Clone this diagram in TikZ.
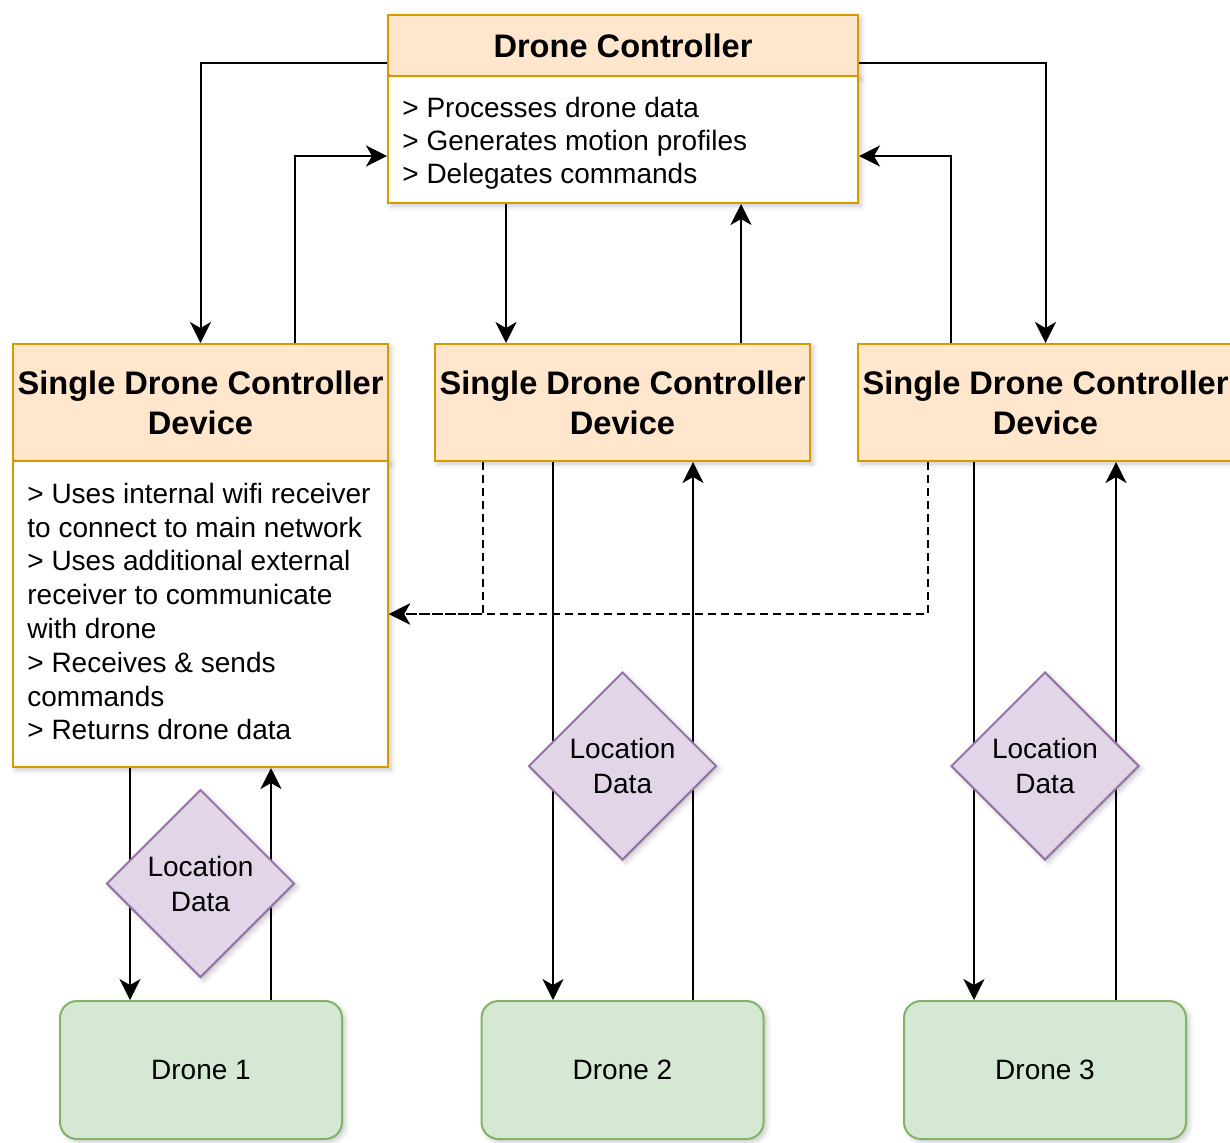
\documentclass[tikz,border=0pt]{standalone}
\usepackage{fontspec}
\setmainfont{Liberation Sans}
\usetikzlibrary{shapes.geometric, arrows.meta, calc, shadows.blur}

\definecolor{hdrfill}{HTML}{FFE6CC}
\definecolor{hdrline}{HTML}{D79B00}
\definecolor{locfill}{HTML}{E1D5E7}
\definecolor{locline}{HTML}{9673A6}
\definecolor{dronefill}{HTML}{D5E8D4}
\definecolor{droneline}{HTML}{82B366}

\tikzset{
  shd/.style={blur shadow={shadow xshift=1.5pt, shadow yshift=-1.5pt,
      shadow blur radius=2.5pt, shadow opacity=22}},
  hdr/.style={shd, draw=hdrline, fill=hdrfill, line width=1pt, inner sep=0pt,
      align=center, font=\fontsize{16.3}{20}\selectfont\bfseries},
  bodybox/.style={shd, draw=hdrline, fill=white, line width=1pt, inner sep=0pt},
  bodytext/.style={inner sep=0pt, anchor=west, align=left,
      font=\fontsize{14}{16.9}\selectfont},
  loc/.style={shd, diamond, draw=locline, fill=locfill, line width=1pt,
      minimum width=94pt, minimum height=94pt, inner sep=0pt, align=center,
      font=\fontsize{14}{17.5}\selectfont},
  drone/.style={shd, rounded corners=8.5pt, draw=droneline, fill=dronefill,
      line width=1pt, minimum width=141pt, minimum height=69pt,
      font=\fontsize{14}{17}\selectfont},
  arr/.style={line width=1pt, -{Stealth[length=10.5pt, width=10.5pt, inset=3pt]}},
  dashedarr/.style={arr, dash pattern=on 4pt off 2.5pt},
}

\begin{document}
\begin{tikzpicture}[x=0.5pt, y=-0.5pt]
\useasboundingbox (0,0) rectangle (1230,1142);
\clip (0,0) rectangle (1230,1142);

% main controller
\node[hdr, minimum width=235pt, minimum height=30.5pt] (dch) at (623,45.5) {Drone Controller};
\node[bodybox, minimum width=235pt, minimum height=63.5pt] (dcb) at (623,139.5) {};
\node[bodytext, font=\fontsize{14}{16.5}\selectfont] (dct) at (402,143)
  {> Processes drone data\\ > Generates motion profiles\\ > Delegates commands};

% single drone controller devices
\node[hdr, minimum width=187.5pt, minimum height=58.5pt] (sdl) at (200.5,402.5) {Single Drone Controller\\Device};
\node[hdr, minimum width=187.5pt, minimum height=58.5pt] (sdm) at (622.5,402.5) {Single Drone Controller\\Device};
\node[hdr, minimum width=187.5pt, minimum height=58.5pt] (sdr) at (1045.5,402.5) {Single Drone Controller\\Device};
\node[bodybox, minimum width=187.5pt, minimum height=153pt] (sdlb) at (200.5,614) {};
\node[bodytext] (sdlt) at (27,611.5)
  {> Uses internal wifi receiver\\ to connect to main network\\ > Uses additional external\\ receiver to communicate\\ with drone\\ > Receives \& sends\\ commands\\ > Returns drone data};

% drones
\node[drone] (d1) at (201,1070) {Drone 1};
\node[drone] (d2) at (622.5,1070) {Drone 2};
\node[drone] (d3) at (1045,1070) {Drone 3};

% controller <-> device links
\draw[arr] ($(dch.south west)+(0,-14)$) -| (sdl.north);
\draw[arr] (sdl.north -| 295,0) |- ($(dcb.west)+(0,16.5)$);
\draw[arr] ($(dch.south east)+(0,-14)$) -| (sdr.north);
\draw[arr] (sdr.north -| 951,0) |- ($(dcb.east)+(0,16.5)$);
\draw[arr] (dcb.south -| 506,0) -- (sdm.north -| 506,0);
\draw[arr] (sdm.north -| 741,0) -- (dcb.south -| 741,0);

% device-to-device data (dashed)
\draw[dashedarr] (sdm.south -| 483,0) |- (sdlb.east);
\draw[dashedarr] (sdr.south -| 928,0) |- (sdlb.east);

% device <-> drone links
\draw[arr] (sdlb.south -| 130,0) -- (d1.north -| 130,0);
\draw[arr] (d1.north -| 271,0) -- (sdlb.south -| 271,0);
\draw[arr] (sdm.south -| 553,0) -- (d2.north -| 553,0);
\draw[arr] (d2.north -| 693,0) -- (sdm.south -| 693,0);
\draw[arr] (sdr.south -| 974,0) -- (d3.north -| 974,0);
\draw[arr] (d3.north -| 1116,0) -- (sdr.south -| 1116,0);

% location data markers
\node[loc] (l1) at (200.5,883.5) {Location\\Data};
\node[loc] (l2) at (622.5,766) {Location\\Data};
\node[loc] (l3) at (1045,766) {Location\\Data};
\end{tikzpicture}
\end{document}
